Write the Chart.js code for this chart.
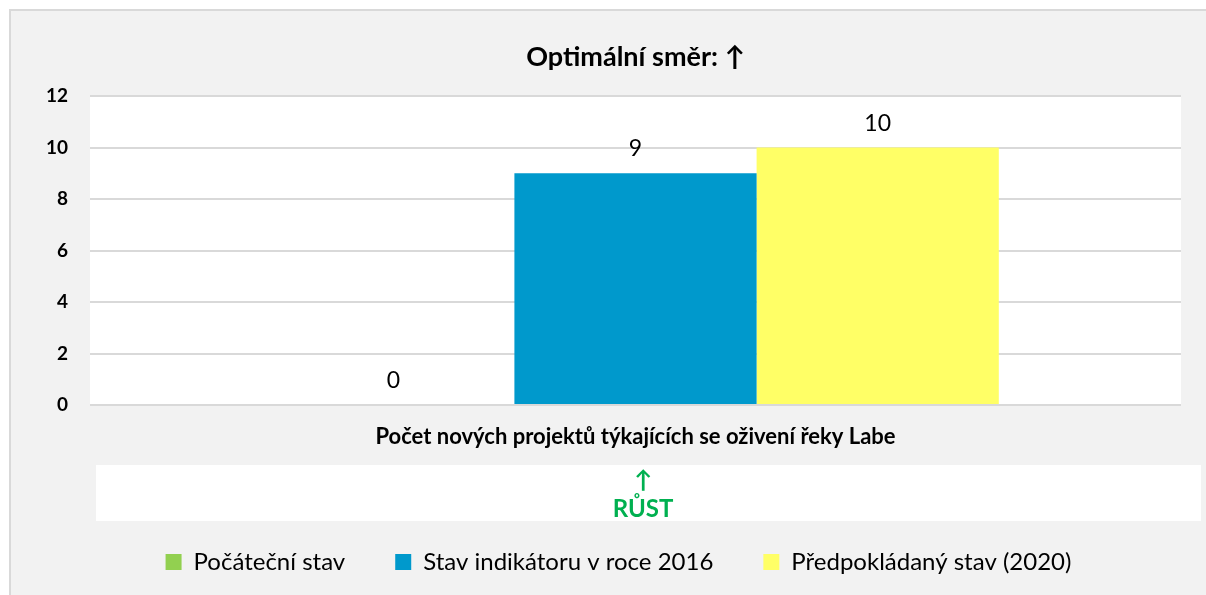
<!DOCTYPE html>
<html>
<head>
<meta charset="utf-8">
<title>Optimální směr</title>
<script src="https://cdn.jsdelivr.net/npm/chart.js@4.4.1/dist/chart.umd.min.js"></script>
<style>
  html, body { margin: 0; padding: 0; background: #fff; }
  #wrap { width: 1206px; height: 595px; position: relative; }
</style>
</head>
<body>
<div id="wrap"><canvas id="chart" width="1206" height="595"></canvas></div>
<script>
// --- data
const categories = ["Počet nových projektů týkajících se oživení řeky Labe"];
const seriesNames = ["Počáteční stav", "Stav indikátoru v roce 2016", "Předpokládaný stav (2020)"];
const initialValues = [0];
const state2016Values = [9];
const expected2020Values = [10];
const seriesColors = ["#92d050", "#0099cc", "#ffff66"];
const yTicks = [0, 2, 4, 6, 8, 10, 12];

const FONT = "Lato, 'DejaVu Sans', sans-serif";

// backgrounds: grey panel, white plot area, white "RŮST" box
const backdrop = {
  id: "backdrop",
  afterLayout(chart) {
    // legend in the original sits a bit left of the plot centre
    chart.legend.left = 56;
  },
  beforeDraw(chart) {
    const ctx = chart.ctx;
    const a = chart.chartArea;
    ctx.save();
    ctx.fillStyle = "#fff";
    ctx.fillRect(0, 0, chart.width, chart.height);
    ctx.fillStyle = "#f2f2f2";
    ctx.fillRect(11, 11, chart.width - 11, chart.height - 11);
    ctx.strokeStyle = "#d9d9d9";
    ctx.lineWidth = 2;
    ctx.beginPath();
    ctx.moveTo(10, chart.height);
    ctx.lineTo(10, 10);
    ctx.lineTo(chart.width, 10);
    ctx.stroke();
    ctx.fillStyle = "#fff";
    ctx.fillRect(a.left, a.top, a.right - a.left, a.bottom - a.top);
    // direction box under the axis label
    ctx.fillRect(96, 465, 1105, 56);
    ctx.fillStyle = "#00b050";
    ctx.textAlign = "center";
    ctx.textBaseline = "middle";
    ctx.font = "bold 24px " + FONT;
    ctx.fillText("↑", 643, 480);
    ctx.fillText("RŮST", 643, 509);
    ctx.restore();
  }
};

// value labels above the bars
const valueLabels = {
  id: "valueLabels",
  afterDatasetsDraw(chart) {
    const ctx = chart.ctx;
    ctx.save();
    ctx.fillStyle = "#000";
    ctx.font = "23px " + FONT;
    ctx.textAlign = "center";
    ctx.textBaseline = "alphabetic";
    chart.data.datasets.forEach((ds, i) => {
      chart.getDatasetMeta(i).data.forEach((bar, j) => {
        ctx.fillText(String(ds.data[j]), bar.x, bar.y - 17);
      });
    });
    ctx.restore();
  }
};

const datasets = [initialValues, state2016Values, expected2020Values].map((vals, i) => ({
  label: seriesNames[i],
  data: vals,
  backgroundColor: seriesColors[i],
  borderWidth: 0,
  categoryPercentage: 0.666,
  barPercentage: 1
}));

new Chart(document.getElementById("chart"), {
  type: "bar",
  data: { labels: categories, datasets },
  plugins: [backdrop, valueLabels],
  options: {
    responsive: false,
    animation: false,
    layout: { padding: { left: 0, right: 25, top: 0, bottom: 11 } },
    plugins: {
      title: {
        display: true,
        text: "Optimální směr: ↑",
        color: "#000",
        fullSize: false,
        font: { family: FONT, size: 27, weight: "bold", lineHeight: 1.2 },
        padding: { top: 40.8, bottom: 22.8 }
      },
      legend: {
        position: "bottom",
        labels: {
          color: "#000",
          boxWidth: 16,
          boxHeight: 16,
          padding: 50,
          font: { family: FONT, size: 24 }
        }
      },
      tooltip: { enabled: false }
    },
    scales: {
      x: {
        grid: { display: false, drawTicks: false },
        border: { display: false },
        ticks: {
          color: "#000",
          padding: 18.8,
          font: { family: FONT, size: 22, weight: "bold" }
        },
        afterFit(scale) { scale.height = 95; }
      },
      y: {
        min: 0,
        max: 12,
        afterBuildTicks(scale) { scale.ticks = yTicks.map(v => ({ value: v })); },
        grid: { color: "#d9d9d9", lineWidth: 2, drawTicks: false },
        border: { display: false },
        ticks: {
          color: "#000",
          padding: 22,
          font: { family: FONT, size: 19, weight: "bold" }
        },
        afterFit(scale) { scale.width = 90; }
      }
    }
  }
});
</script>
</body>
</html>
